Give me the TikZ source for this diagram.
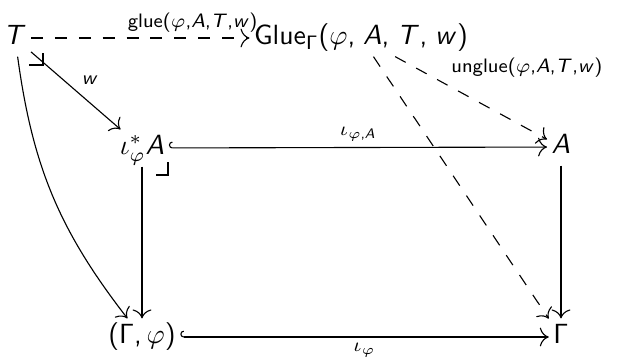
\documentclass[tikz,border=0pt]{standalone}
\usetikzlibrary{arrows.meta,calc}
\DeclareSymbolFont{sfit}{OT1}{cmss}{m}{sl}
\DeclareSymbolFont{sfup}{OT1}{cmss}{m}{n}
\DeclareMathSymbol{A}{\mathalpha}{sfit}{`A}
\DeclareMathSymbol{T}{\mathalpha}{sfit}{`T}
\DeclareMathSymbol{w}{\mathalpha}{sfit}{`w}
\DeclareMathSymbol{(}{\mathopen}{sfup}{`(}
\DeclareMathSymbol{)}{\mathclose}{sfup}{`)}
\DeclareMathSymbol{,}{\mathpunct}{sfup}{`,}
\DeclareMathSymbol{\sfGamma}{\mathalpha}{sfup}{"00}
\tikzset{
  obj/.style={inner sep=1.5pt, text height=7.5pt, text depth=2.5pt},
  ar/.style={arrows={-{Computer Modern Rightarrow[scale=1.3]}}},
  hk/.style={arrows={{Hooks[right]}-{Computer Modern Rightarrow[scale=1.3]}}},
  dsh/.style={dash pattern=on 4.3pt off 4.3pt},
  lbl/.style={font=\fontsize{7.3}{9}\selectfont, inner sep=2pt}
}
\begin{document}
\begin{tikzpicture}[x=0.36pt,y=0.36pt]
\useasboundingbox (0,0) rectangle (617,-360);
\fill[white] (0,0) rectangle (617,-360);
\node[obj] (T) at (15,-38) {$T$};
\node[obj] (G) at (361,-38) {$\mathsf{Glue}_{\sfGamma}(\varphi,\mkern2mu A,\mkern2mu T,\mkern2mu w)$};
\node[obj] (I) at (142,-148) {$\iota^*_\varphi A$};
\node[obj] (A) at (561,-147) {$A$};
\node[obj] (P) at (142,-337) {$(\sfGamma,\varphi)$};
\node[obj] (C) at (561,-337) {$\sfGamma$};
\draw[ar,dsh] (T) -- node[lbl,above,pos=0.74] {$\mathsf{glue}(\varphi{,}A{,}T{,}w)$} (G);
\draw[ar] (T) -- node[lbl,auto] {$w$} (I);
\draw[ar] (T) to[bend right=15] (P);
\draw[hk] (I) -- node[lbl,above] {$\iota_{\varphi{,}A}$} (A);
\draw[ar] (I) -- (P);
\draw[ar] (A) -- (C);
\draw[hk] (P) -- node[lbl,below] {$\iota_\varphi$} (C);
\draw[ar,dsh] (G) -- node[lbl,auto,pos=0.33] {$\mathsf{unglue}(\varphi{,}A{,}T{,}w)$} (A);
\draw[ar,dsh] (G) -- (C);
\draw ($(T.center)+(14,-27)$) -- ++(14,0) -- ++(0,12);
\draw ($(I.center)+(14,-27)$) -- ++(12,0) -- ++(0,13);
\end{tikzpicture}
\end{document}
